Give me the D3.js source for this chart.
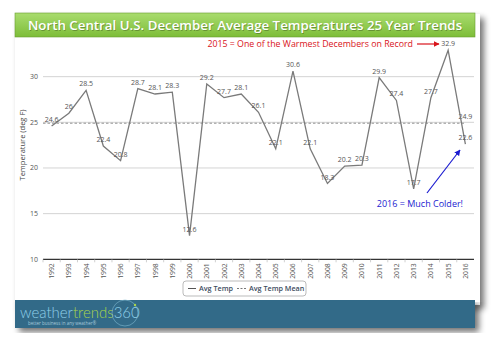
<!DOCTYPE html>
<html><head><meta charset="utf-8">
<script src="https://cdn.jsdelivr.net/npm/d3@7"></script>
<style>body{margin:0;background:#fff;}svg{display:block;font-family:"Open Sans",sans-serif;}</style>
</head><body><svg id="c" width="500" height="348"></svg>
<script>
const years = ["1992","1993","1994","1995","1996","1997","1998","1999","2000","2001","2002","2003","2004","2005","2006","2007","2008","2009","2010","2011","2012","2013","2014","2015","2016"];
const avgTemp = [24.6,26,28.5,22.4,20.8,28.7,28.1,28.3,12.6,29.2,27.7,28.1,26.1,22.1,30.6,22.1,18.3,20.2,20.3,29.9,27.4,17.7,27.7,32.9,22.6];
const avgTempMean = 24.9;
const yTicks = [10,15,20,25,30];
const titleText = "North Central U.S. December Average Temperatures 25 Year Trends";
const noteWarm = "2015 = One of the Warmest Decembers on Record";
const noteCold = "2016 = Much Colder!";

const svg = d3.select("#c");
const defs = svg.append("defs");
const f = defs.append("filter").attr("id","sh").attr("x","-5%").attr("y","-5%").attr("width","115%").attr("height","120%");
f.append("feGaussianBlur").attr("in","SourceAlpha").attr("stdDeviation",3);
f.append("feOffset").attr("dx",4).attr("dy",4).attr("result","b");
f.append("feComponentTransfer").append("feFuncA").attr("type","linear").attr("slope",0.55);
const fm = f.append("feMerge"); fm.append("feMergeNode"); fm.append("feMergeNode").attr("in","SourceGraphic");
const g1 = defs.append("linearGradient").attr("id","gg").attr("x1",0).attr("y1",0).attr("x2",0).attr("y2",1);
g1.append("stop").attr("offset","0").attr("stop-color","#a9dc6e");
g1.append("stop").attr("offset","1").attr("stop-color","#7dbd38");

// card
svg.append("rect").attr("x",15).attr("y",14).attr("width",465).attr("height",291).attr("fill","#fff").attr("filter","url(#sh)");
svg.append("rect").attr("x",15).attr("y",13).attr("width",460).attr("height",24).attr("fill","url(#gg)").attr("stroke","#6a9e30").attr("stroke-width",0.6);
svg.append("text").attr("x",245).attr("y",30).attr("text-anchor","middle").attr("fill","#000").attr("opacity",0.25)
  .attr("font-size",13.3).attr("font-weight",600).attr("font-family","Open Sans").attr("transform","translate(0.8,0.8)").text(titleText);
svg.append("text").attr("x",245).attr("y",30).attr("text-anchor","middle").attr("fill","#fff")
  .attr("font-size",13.3).attr("font-weight",600).attr("font-family","Open Sans").text(titleText);

const x = d3.scalePoint().domain(years).range([43,474]).padding(0.5);
const xb = d3.scaleBand().domain(years).range([43,474]);
const y = d3.scaleLinear().domain([10,35]).range([259.3,31]);

// grid
svg.append("g").selectAll("line").data(yTicks.slice(1)).join("line")
  .attr("x1",43).attr("x2",474).attr("y1",d=>y(d)).attr("y2",d=>y(d)).attr("stroke","#c8c8c8").attr("stroke-width",0.8);
svg.append("g").selectAll("text").data(yTicks).join("text")
  .attr("x",38).attr("y",d=>y(d)+2.5).attr("text-anchor","end").attr("font-size",7).attr("fill","#555").text(d=>d);

// x axis
const xa = svg.append("g").attr("transform","translate(0,259.3)");
xa.append("line").attr("x1",43).attr("x2",474).attr("stroke","#333").attr("stroke-width",1.2);
xa.selectAll("line.t").data(years).join("line").attr("class","t")
  .attr("x1",d=>xb(d)).attr("x2",d=>xb(d)).attr("y1",0).attr("y2",3).attr("stroke","#bbb").attr("stroke-width",0.7);
xa.selectAll("text").data(years).join("text")
  .attr("transform",d=>`translate(${x(d)+2.5},4) rotate(-90)`).attr("text-anchor","end")
  .attr("font-size",6.8).attr("fill","#555").text(d=>d);

svg.append("text").attr("transform","translate(25,145) rotate(-90)").attr("text-anchor","middle")
  .attr("font-size",7.5).attr("fill","#444").text("Temperature (deg F)");

// mean
svg.append("line").attr("x1",43).attr("x2",x("2016")).attr("y1",y(avgTempMean)).attr("y2",y(avgTempMean))
  .attr("stroke","#888").attr("stroke-width",0.9).attr("stroke-dasharray","2.5,2");
svg.append("text").attr("x",x("2016")).attr("y",y(avgTempMean)-4).attr("text-anchor","middle")
  .attr("font-size",7).attr("fill","#555").text(avgTempMean);

// line
const pts = years.map((d,i)=>[x(d),y(avgTemp[i])]);
svg.append("path").attr("d",d3.line()(pts)).attr("fill","none").attr("stroke","#7a7a7a").attr("stroke-width",1.3);
svg.append("g").selectAll("text").data(avgTemp).join("text")
  .attr("x",(d,i)=>x(years[i])).attr("y",d=>y(d)-4).attr("text-anchor","middle")
  .attr("font-size",7).attr("fill","#555").text(d=>d);

// legend
const lg = svg.append("g");
lg.append("rect").attr("x",183).attr("y",281).attr("width",123).attr("height",15).attr("rx",3).attr("fill","#fff").attr("stroke","#aaa").attr("stroke-width",0.8);
lg.append("line").attr("x1",188).attr("x2",196).attr("y1",288.5).attr("y2",288.5).attr("stroke","#555").attr("stroke-width",1);
lg.append("text").attr("x",199).attr("y",291).attr("font-size",7.2).attr("font-weight",600).attr("fill","#3d4c5e").text("Avg Temp");
lg.append("line").attr("x1",237).attr("x2",247).attr("y1",288.5).attr("y2",288.5).attr("stroke","#777").attr("stroke-width",1).attr("stroke-dasharray","2,1.5");
lg.append("text").attr("x",249).attr("y",291).attr("font-size",7.2).attr("font-weight",600).attr("fill","#3d4c5e").text("Avg Temp Mean");

// annotations
defs.append("marker").attr("id","ar").attr("viewBox","0 0 10 10").attr("refX",9).attr("refY",5).attr("markerWidth",5).attr("markerHeight",5).attr("orient","auto")
  .append("path").attr("d","M0,0L10,5L0,10z").attr("fill","#d9141b");
defs.append("marker").attr("id","ab").attr("viewBox","0 0 10 10").attr("refX",9).attr("refY",5).attr("markerWidth",5).attr("markerHeight",5).attr("orient","auto")
  .append("path").attr("d","M0,0L10,5L0,10z").attr("fill","#1a1ad0");
svg.append("text").attr("x",413).attr("y",47).attr("text-anchor","end").attr("font-size",8.8).attr("fill","#d9141b").text(noteWarm);
svg.append("line").attr("x1",417).attr("x2",439).attr("y1",44).attr("y2",44).attr("stroke","#d9141b").attr("stroke-width",1.2).attr("marker-end","url(#ar)");
svg.append("text").attr("x",463).attr("y",207).attr("text-anchor","end").attr("font-size",9).attr("fill","#1a1ad0").text(noteCold);
svg.append("line").attr("x1",427).attr("y1",193).attr("x2",460).attr("y2",150).attr("stroke","#1a1ad0").attr("stroke-width",1.2).attr("marker-end","url(#ab)");

// footer
svg.append("rect").attr("x",15).attr("y",300).attr("width",460).attr("height",28).attr("fill","#336a88").attr("filter","url(#sh)");
const lt = svg.append("text").attr("x",20).attr("y",318).attr("font-size",15).attr("font-family","Lato").attr("font-weight",300);
lt.append("tspan").attr("fill","#8fd0e8").text("weather");
lt.append("tspan").attr("fill","#a8d44c").text("trends");
lt.append("tspan").attr("fill","#8fd0e8").text("360");
svg.append("circle").attr("cx",125).attr("cy",313).attr("r",13).attr("fill","none").attr("stroke","#7fb8d0").attr("stroke-width",0.6);
svg.append("circle").attr("cx",135).attr("cy",305).attr("r",1.2).attr("fill","#a8d44c");
svg.append("text").attr("x",28).attr("y",324.5).attr("font-size",4.5).attr("fill","#a6c9da").text("better business in any weather®");
</script></body></html>
